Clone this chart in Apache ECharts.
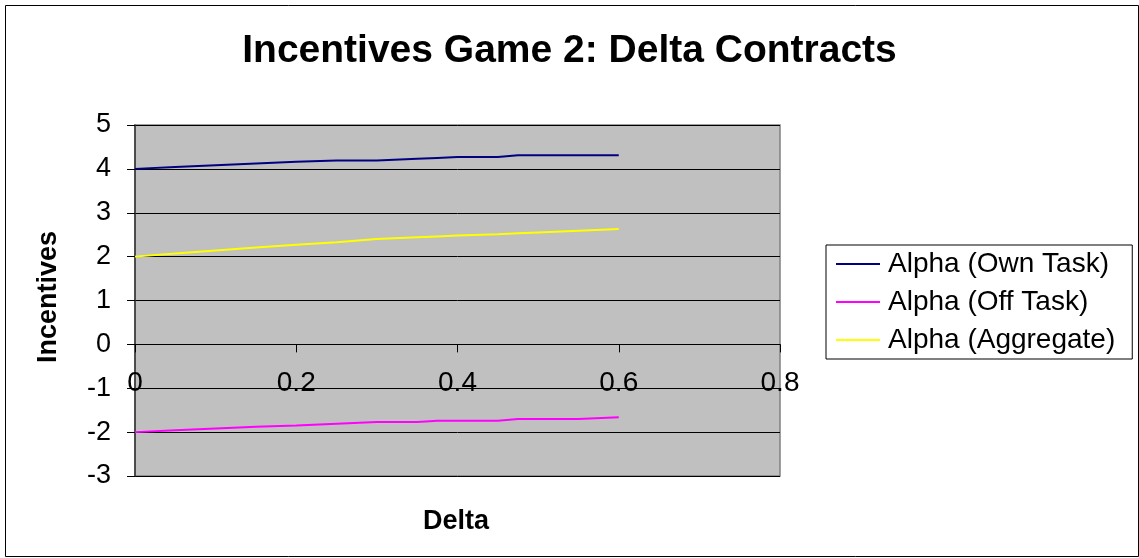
<!DOCTYPE html>
<html>
<head>
<meta charset="utf-8">
<title>Incentives Game 2: Delta Contracts</title>
<script src="https://cdn.jsdelivr.net/npm/echarts@6/dist/echarts.min.js"></script>
<style>
  html, body { margin: 0; padding: 0; background: #fff; }
  #chart { width: 1139px; height: 558px; }
</style>
</head>
<body>
<div id="chart"></div>
<script>
// Contract parameter (delta) on the horizontal axis
const deltaValues = [0, 0.05, 0.1, 0.15, 0.2, 0.25, 0.3, 0.35, 0.375, 0.4, 0.45, 0.475, 0.5, 0.55, 0.6];

// Incentive levels for each series
const ownTask   = [4.0, 4.04, 4.08, 4.12, 4.16, 4.19, 4.19, 4.23, 4.25, 4.27, 4.27, 4.31, 4.31, 4.31, 4.31];
const offTask   = [-2.0, -1.96, -1.92, -1.88, -1.85, -1.81, -1.77, -1.77, -1.74, -1.74, -1.74, -1.70, -1.70, -1.70, -1.66];
const aggregate = [2.0, 2.07, 2.14, 2.21, 2.27, 2.33, 2.40, 2.44, 2.46, 2.48, 2.51, 2.53, 2.55, 2.59, 2.63];

const seriesNames = ['Alpha (Own Task)', 'Alpha (Off Task)', 'Alpha (Aggregate)'];
const seriesColors = ['#000080', '#FF00FF', '#FFFF00'];

const FONT = "'Liberation Sans', Arial, sans-serif";

// Plot rectangle (pixels) and value range of the incentive axis
const GRID_TOP = 125, GRID_BOTTOM = 82, CHART_H = 558;
const Y_MIN = -3, Y_MAX = 5;
const plotH = CHART_H - GRID_TOP - GRID_BOTTOM;
// Horizontal axis sits where incentive = 0
const xAxisOffset = -plotH * (0 - Y_MIN) / (Y_MAX - Y_MIN);

function pairs(values) {
  return deltaValues.map((d, i) => [d, values[i]]);
}

const chart = echarts.init(document.getElementById('chart'), null, { renderer: 'canvas' });

chart.setOption({
  backgroundColor: '#ffffff',
  animation: false,
  title: {
    text: 'Incentives Game 2: Delta Contracts',
    left: 'center',
    top: 27,
    textStyle: { fontFamily: FONT, fontSize: 39, fontWeight: 'bold', color: '#000' }
  },
  grid: {
    left: 135,
    right: 359,
    top: GRID_TOP,
    bottom: GRID_BOTTOM,
    show: true,
    backgroundColor: '#C0C0C0',
    borderColor: '#808080',
    borderWidth: 1.5
  },
  legend: {
    orient: 'vertical',
    left: 826,
    top: 245,
    padding: [5, 17, 5, 10],
    itemGap: 10,
    itemWidth: 44,
    itemHeight: 2,
    icon: 'rect',
    borderColor: '#000',
    borderWidth: 1,
    backgroundColor: '#fff',
    textStyle: { fontFamily: FONT, fontSize: 28, color: '#000', padding: [0, 0, 0, 3] },
    data: seriesNames
  },
  xAxis: {
    type: 'value',
    min: 0,
    max: 0.8,
    interval: 0.2,
    position: 'bottom',
    offset: xAxisOffset,
    axisLine: { show: true, onZero: false, lineStyle: { color: '#000', width: 1 } },
    axisTick: { show: true, inside: false, length: 8, lineStyle: { color: '#000' } },
    axisLabel: {
      margin: 25,
      fontFamily: FONT,
      fontSize: 28,
      color: '#000',
      formatter: v => String(Math.round(v * 10) / 10)
    },
    splitLine: { show: false }
  },
  yAxis: {
    type: 'value',
    min: Y_MIN,
    max: Y_MAX,
    interval: 1,
    axisLine: { show: true, lineStyle: { color: '#333', width: 1.5 } },
    axisTick: { show: true, inside: false, length: 8, lineStyle: { color: '#000' } },
    axisLabel: { margin: 24, fontFamily: FONT, fontSize: 27, color: '#000' },
    splitLine: { show: true, lineStyle: { color: '#000', width: 1 } }
  },
  graphic: [
    {
      type: 'rect',
      left: 3, top: 3,
      shape: { width: 1133, height: 551 },
      style: { fill: 'none', stroke: '#000', lineWidth: 1 },
      silent: true
    },
    {
      type: 'text',
      x: 49, y: 297,
      rotation: Math.PI / 2,
      style: {
        text: 'Incentives',
        fontFamily: FONT, fontSize: 27, fontWeight: 'bold', fill: '#000',
        align: 'center', verticalAlign: 'middle'
      }
    },
    {
      type: 'text',
      x: 456, y: 522,
      style: {
        text: 'Delta',
        fontFamily: FONT, fontSize: 27, fontWeight: 'bold', fill: '#000',
        align: 'center', verticalAlign: 'middle'
      }
    }
  ],
  series: [ownTask, offTask, aggregate].map((vals, i) => ({
    name: seriesNames[i],
    type: 'line',
    data: pairs(vals),
    symbol: 'none',
    showSymbol: false,
    lineStyle: { color: seriesColors[i], width: 2 },
    itemStyle: { color: seriesColors[i] }
  }))
});
</script>
</body>
</html>
